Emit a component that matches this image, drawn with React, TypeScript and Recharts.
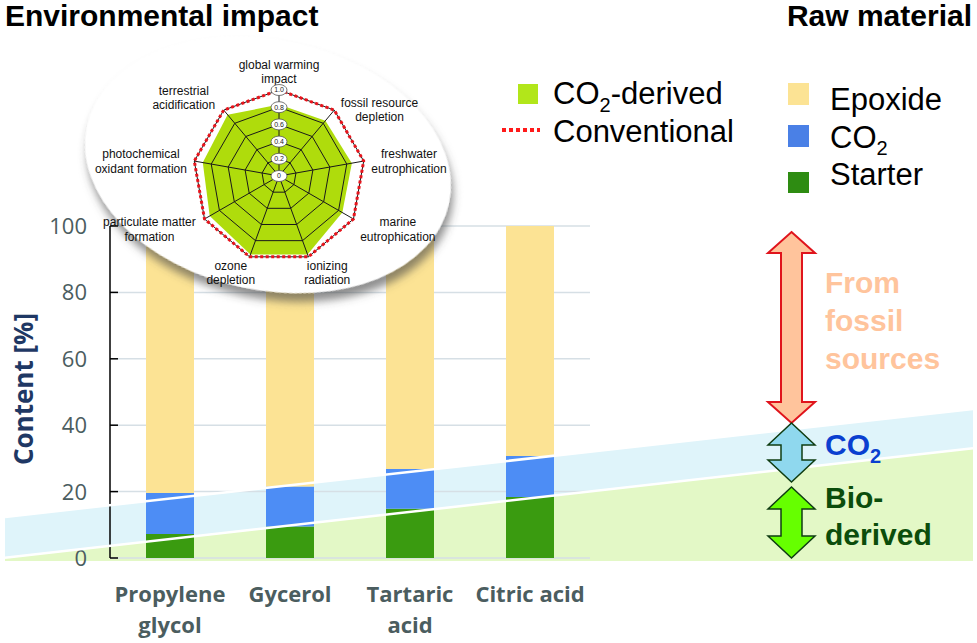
import React from 'react';
import {
  BarChart, Bar, XAxis, YAxis, CartesianGrid,
  AreaChart, Area, LineChart, Line,
  RadarChart, Radar, PolarGrid, PolarAngleAxis, PolarRadiusAxis,
} from 'recharts';

// raw material content per starter
const categories = ['Propylene glycol', 'Gycerol', 'Tartaric acid', 'Citric acid'];
const categoryLines = [['Propylene', 'glycol'], ['Gycerol'], ['Tartaric', 'acid'], ['Citric acid']];
const starterValues = [7.2, 9.5, 14.8, 18.4];
const co2Values = [12.4, 12, 12, 12.3];
const epoxideValues = [80.4, 78.5, 73.2, 69.3];
const yTicks = [0, 20, 40, 60, 80, 100];

// slanted background bands (left edge -> right edge)
const bandX = [0, 1];
const bioBandTop = [0, 33];
const co2BandTop = [12.3, 44.8];

// radar: environmental impact
const impactLabels = [
  'global warming|impact', 'fossil resource|depletion', 'freshwater|eutrophication',
  'marine|eutrophication', 'ionizing|radiation', 'ozone|depletion',
  'particulate matter|formation', 'photochemical|oxidant formation', 'terrestrial|acidification',
];
const co2Derived = [0.83, 0.84, 0.86, 0.85, 0.97, 0.97, 0.93, 0.9, 0.93];
const conventional = [1, 1, 1, 1, 1, 1, 1, 1, 1];
const radiusTicks = [0, 0.2, 0.4, 0.6, 0.8, 1.0];

const barData = categories.map((name, i) => ({
  name, starter: starterValues[i], co2: co2Values[i], epoxide: epoxideValues[i],
}));
const bandData = bandX.map((x, i) => ({ x, bio: bioBandTop[i], co2: [bioBandTop[i], co2BandTop[i]], co2Top: co2BandTop[i] }));
const radarData = impactLabels.map((label, i) => ({ label, co2Derived: co2Derived[i], conventional: conventional[i] }));

const SANS = 'Liberation Sans, Arial, sans-serif';
const OPEN = '"Open Sans", sans-serif';
const GRAY = '#4b5d5f';
const RADAR_R = 86;
const RCX = 200;
const RCY = 150;

function YTick({ x, y, payload }: any) {
  return (
    <g>
      <line x1={x + 23} x2={x + 31} y1={y} y2={y} stroke="#000" strokeWidth={1.5} />
      <text x={x} y={y} dy="0.36em" textAnchor="end" fontFamily={OPEN} fontSize={22} fill={GRAY}>
        {payload.value}
      </text>
    </g>
  );
}

function XTick({ x, y, index }: any) {
  const lines = categoryLines[index] || [];
  return (
    <text x={x} y={y} textAnchor="middle" fontFamily={OPEN} fontWeight={700} fontSize={22} fill={GRAY}>
      {lines.map((l, i) => (
        <tspan key={i} x={x} y={y + 44 + i * 31}>{l}</tspan>
      ))}
    </text>
  );
}

function ImpactTick({ x, y, payload }: any) {
  const lines = String(payload.value).split('|');
  const c = (x - RCX) / (RADAR_R + 8);
  const s = (RCY - y) / (RADAR_R + 8);
  const w = Math.max(...lines.map((l) => l.length)) * 5.35;
  let cx = x;
  if (c > 0.2) cx = x + w / 2 - (c < 0.5 ? 8 : 0);
  else if (c < -0.2) cx = x - w / 2 + (c > -0.5 ? 8 : 0);
  let cy;
  if (s > 0.9) cy = y - 10;
  else if (s > 0.5) cy = c < 0 ? y - 6 : y + 6;
  else if (s > -0.2) cy = y + 2;
  else cy = y + 4 - s * 5;
  return (
    <text textAnchor="middle" fontFamily={SANS} fontSize={12} fill="#111">
      {lines.map((l, i) => (
        <tspan key={i} x={cx} y={cy - 7.25 + 4 + i * 14.5}>{l}</tspan>
      ))}
    </text>
  );
}

function RadiusTick({ x, y, payload }: any) {
  const v = payload.value === 0 ? '0' : Number(payload.value).toFixed(1);
  return (
    <g>
      <ellipse cx={x} cy={y} rx={8} ry={5.5} fill="#fff" stroke="#555" strokeWidth={0.8} />
      <text x={x} y={y} dy="0.35em" textAnchor="middle" fontFamily={SANS} fontSize={7} fill="#222">{v}</text>
    </g>
  );
}

function doubleArrow(cx: number, top: number, bot: number, hl: number, hw: number, sw: number) {
  return [
    [cx, top], [cx + hw, top + hl], [cx + sw, top + hl], [cx + sw, bot - hl], [cx + hw, bot - hl],
    [cx, bot], [cx - hw, bot - hl], [cx - sw, bot - hl], [cx - sw, top + hl], [cx - hw, top + hl],
  ].map((p) => p.join(',')).join(' ');
}

const layer: React.CSSProperties = { position: 'absolute', left: 0, top: 0 };

export default function App() {
  return (
    <div style={{ position: 'absolute', left: 0, top: 0, width: 977, height: 643, background: '#fff', overflow: 'hidden' }}>
      {/* background bands */}
      <div style={layer}>
        <AreaChart width={977} height={643} data={bandData} margin={{ top: 226, right: 4, bottom: 82, left: 5 }}>
          <XAxis type="number" dataKey="x" domain={[0, 1]} hide />
          <YAxis type="number" domain={[-1, 100]} hide allowDataOverflow />
          <Area type="linear" dataKey="bio" baseValue={-1} stroke="none" fill="#e3f8c6" fillOpacity={1} isAnimationActive={false} />
          <Area type="linear" dataKey="co2" stroke="none" fill="#dff4fa" fillOpacity={1} isAnimationActive={false} />
        </AreaChart>
      </div>

      {/* stacked bars */}
      <div style={layer}>
        <BarChart width={977} height={643} data={barData} margin={{ top: 226, right: 387, bottom: 5, left: 50 }} barSize={48}>
          <CartesianGrid horizontal vertical={false} stroke="#d6dfe5" strokeWidth={1.5} />
          <XAxis dataKey="name" axisLine={false} tickLine={false} height={80} interval={0} tickSize={0} tickMargin={0} tick={<XTick />} />
          <YAxis
            type="number" domain={[0, 100]} ticks={yTicks} width={60}
            axisLine={{ stroke: '#000', strokeWidth: 1.5 }} tickLine={false} tickSize={0} tickMargin={23}
            tick={<YTick />}
          />
          <Bar dataKey="starter" stackId="a" fill="#3a9b10" isAnimationActive={false} />
          <Bar dataKey="co2" stackId="a" fill="#4d8df5" isAnimationActive={false} />
          <Bar dataKey="epoxide" stackId="a" fill="#fce394" isAnimationActive={false} />
        </BarChart>
      </div>

      {/* white edges of the bands */}
      <div style={layer}>
        <LineChart width={977} height={643} data={bandData} margin={{ top: 226, right: 4, bottom: 82, left: 5 }}>
          <XAxis type="number" dataKey="x" domain={[0, 1]} hide />
          <YAxis type="number" domain={[-1, 100]} hide allowDataOverflow />
          <Line type="linear" dataKey="bio" stroke="#fff" strokeWidth={2.5} dot={false} isAnimationActive={false} />
          <Line type="linear" dataKey="co2Top" stroke="#fff" strokeWidth={2.5} dot={false} isAnimationActive={false} />
        </LineChart>
      </div>

      {/* ellipse behind the radar */}
      <svg width={977} height={643} style={layer}>
        <defs>
          <filter id="shadow" x="-20%" y="-20%" width="140%" height="150%">
            <feDropShadow dx={4} dy={8} stdDeviation={4} floodColor="#444" floodOpacity={0.6} />
          </filter>
        </defs>
        <ellipse cx={268} cy={165} rx={185} ry={125} transform="rotate(12 268 165)" fill="#fff" filter="url(#shadow)" />
      </svg>

      {/* radar: CO2-derived fill */}
      <div style={{ ...layer, left: 79, top: 26 }}>
        <RadarChart width={400} height={300} data={radarData} outerRadius={RADAR_R} margin={{ top: 0, right: 0, bottom: 0, left: 0 }}>
          <PolarAngleAxis dataKey="label" tick={false} axisLine={false} tickLine={false} />
          <PolarRadiusAxis type="number" domain={[0, 1]} ticks={radiusTicks as any} tick={false} axisLine={false} />
          <Radar dataKey="co2Derived" fill="#afdc0c" fillOpacity={1} stroke="none" isAnimationActive={false} />
        </RadarChart>
      </div>

      {/* radar: grid, labels, conventional */}
      <div style={{ ...layer, left: 79, top: 26 }}>
        <RadarChart width={400} height={300} data={radarData} outerRadius={RADAR_R} margin={{ top: 0, right: 0, bottom: 0, left: 0 }}>
          <PolarGrid gridType="polygon" stroke="#1a1a1a" strokeWidth={1} polarRadius={radiusTicks.map((t) => t * RADAR_R)} />
          <PolarAngleAxis dataKey="label" tick={<ImpactTick />} axisLine={false} tickLine={false} />
          <PolarRadiusAxis type="number" angle={90} domain={[0, 1]} ticks={radiusTicks as any} tickCount={6} axisLine={false} tick={<RadiusTick />} />
          <Radar dataKey="conventional" fill="none" stroke="#e8141c" strokeWidth={3} strokeDasharray="3 2.5" isAnimationActive={false} />
        </RadarChart>
      </div>

      {/* titles, legends, arrows */}
      <svg width={977} height={643} style={layer}>
        <text x={5} y={26} fontFamily={SANS} fontWeight={700} fontSize={30} fill="#000">Environmental impact</text>
        <text x={972} y={26} textAnchor="end" fontFamily={SANS} fontWeight={700} fontSize={30} fill="#000">Raw material</text>

        <text x={33} y={389} transform="rotate(-90 33 389)" textAnchor="middle" fontFamily={OPEN} fontWeight={700} fontSize={26} fill="#1f3864">Content [%]</text>

        {/* radar legend */}
        <rect x={518} y={84} width={20} height={20} fill="#b2e61a" />
        <text x={553} y={104} fontFamily={SANS} fontSize={31} fill="#000">CO<tspan fontSize={20} dy={8}>2</tspan><tspan dy={-8}>-derived</tspan></text>
        <line x1={502} x2={540} y1={130} y2={130} stroke="#ff1a1a" strokeWidth={4} strokeDasharray="4 3" />
        <text x={553} y={142} fontFamily={SANS} fontSize={31} fill="#000">Conventional</text>

        {/* raw material legend */}
        <rect x={788} y={83} width={21} height={22} fill="#fce394" />
        <text x={830} y={110} fontFamily={SANS} fontSize={31} fill="#000">Epoxide</text>
        <rect x={788} y={125} width={21} height={22} fill="#4a80e6" />
        <text x={830} y={148} fontFamily={SANS} fontSize={31} fill="#000">CO<tspan fontSize={20} dy={7}>2</tspan></text>
        <rect x={788} y={172} width={21} height={21} fill="#2e8c12" />
        <text x={830} y={185} fontFamily={SANS} fontSize={31} fill="#000">Starter</text>

        {/* origin arrows */}
        <polygon points={doubleArrow(791.5, 232, 423, 21, 23.5, 10.5)} fill="#ffc49c" stroke="#e0141c" strokeWidth={2} />
        <polygon points={doubleArrow(791.5, 423, 482, 22, 23.5, 10.5)} fill="#8fd8ee" stroke="#0f3d12" strokeWidth={1.5} />
        <polygon points={doubleArrow(791.5, 487, 558, 22, 23.5, 10.5)} fill="#66ff00" stroke="#0f3d12" strokeWidth={1.5} />

        <g fontFamily={SANS} fontWeight={700} fontSize={30}>
          <text x={825} y={293} fill="#ffc49c">From</text>
          <text x={825} y={331} fill="#ffc49c">fossil</text>
          <text x={825} y={369} fill="#ffc49c">sources</text>
          <text x={825} y={455} fill="#0a3fd0">CO<tspan fontSize={20} dy={8}>2</tspan></text>
          <text x={825} y={508} fill="#0b4d0b">Bio-</text>
          <text x={825} y={545} fill="#0b4d0b">derived</text>
        </g>
      </svg>
    </div>
  );
}
